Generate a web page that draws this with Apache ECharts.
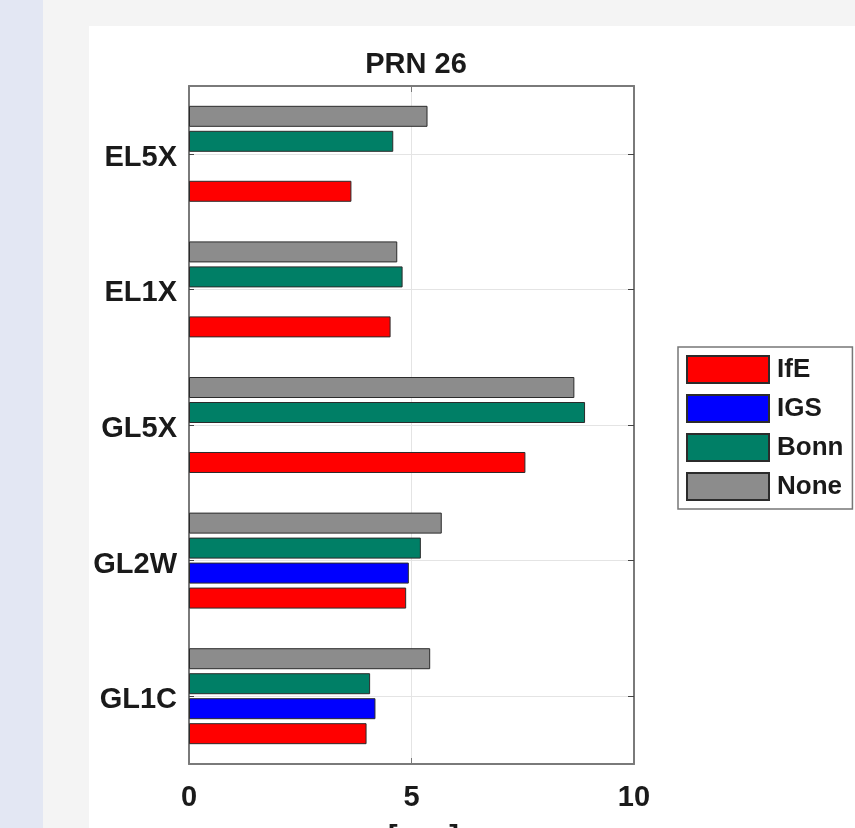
<!DOCTYPE html>
<html>
<head>
<meta charset="utf-8">
<script src="https://cdn.jsdelivr.net/npm/echarts@6/dist/echarts.min.js"></script>
<style>
  html, body { margin: 0; padding: 0; background: #f4f4f4; }
  #chart { width: 855px; height: 828px; }
</style>
</head>
<body>
<div id="chart"></div>
<script>
// Signals (bottom to top) and RMS values per correction source
const categories = ['GL1C', 'GL2W', 'GL5X', 'EL1X', 'EL5X'];
const ife  = [3.99, 4.88, 7.56, 4.53, 3.65];
const igs  = [4.19, 4.94, null, null, null];
const bonn = [4.07, 5.21, 8.90, 4.80, 4.59];
const none = [5.42, 5.68, 8.66, 4.68, 5.36];
const seriesNames = ['IfE', 'IGS', 'Bonn', 'None'];
const xTicks = [0, 5, 10];

const FONT = '"Liberation Sans", Arial, Helvetica, sans-serif';
const TXT = '#1a1a1a';
const AXIS = '#7a7a7a';
const GRIDC = '#e4e4e4';

// Helper axis for horizontal grid lines and right-hand ticks at category centres
const halfSteps = [];
for (let i = 0; i <= categories.length * 2; i++) halfSteps.push(String(i));
const atCentre = (i) => i % 2 === 1;

const chart = echarts.init(document.getElementById('chart'), null, { renderer: 'canvas' });

const barStyle = (color) => ({ color: color, borderColor: '#2b2b2b', borderWidth: 1 });

// Bars within a group are stacked upward in series order: IfE lowest, None on top
const bars = [
  { name: 'IfE',  data: ife,  color: '#ff0000' },
  { name: 'IGS',  data: igs,  color: '#0000ff' },
  { name: 'Bonn', data: bonn, color: '#007f66' },
  { name: 'None', data: none, color: '#8c8c8c' }
];

chart.setOption({
  animation: false,
  backgroundColor: '#f4f4f4',
  graphic: [
    { type: 'rect', z: -10, shape: { x: 0, y: 0, width: 43, height: 828 }, style: { fill: '#e3e7f3' } },
    { type: 'rect', z: -10, shape: { x: 89, y: 26, width: 766, height: 802 }, style: { fill: '#ffffff' } }
  ],
  title: {
    text: 'PRN 26',
    left: 411,
    top: 45,
    textAlign: 'center',
    textStyle: { fontFamily: FONT, fontSize: 29, fontWeight: 'bold', color: TXT }
  },
  legend: {
    orient: 'vertical',
    left: 678,
    top: 347,
    data: seriesNames,
    icon: 'rect',
    itemWidth: 82,
    itemHeight: 27,
    itemGap: 10,
    padding: [8, 9, 8, 8],
    backgroundColor: '#ffffff',
    borderColor: '#777777',
    borderWidth: 1.5,
    borderRadius: 0,
    selectedMode: false,
    textStyle: { fontFamily: FONT, fontSize: 26, fontWeight: 'bold', color: TXT, padding: [0, 0, 0, 3] }
  },
  grid: { left: 189, right: 221, top: 86, bottom: 64, containLabel: false, outerBoundsMode: 'none' },
  xAxis: [
    {
      type: 'value', min: 0, max: 10, interval: 5, position: 'bottom',
      name: '[mm]', nameLocation: 'middle', nameGap: 59,
      nameTextStyle: { fontFamily: FONT, fontSize: 29, fontWeight: 'bold', color: TXT, padding: [0, 0, 0, 24] },
      axisLine: { show: true, onZero: false, lineStyle: { color: AXIS, width: 2 } },
      axisTick: { show: true, inside: true, length: 6, lineStyle: { color: AXIS } },
      axisLabel: { margin: 19, fontFamily: FONT, fontSize: 29, fontWeight: 'bold', color: TXT,
                   formatter: (v) => (xTicks.includes(v) ? String(v) : '') },
      splitLine: { show: true, lineStyle: { color: GRIDC, width: 1 } }
    },
    {
      type: 'value', min: 0, max: 10, interval: 5, position: 'top',
      axisLine: { show: true, onZero: false, lineStyle: { color: AXIS, width: 2 } },
      axisTick: { show: true, inside: true, length: 6, lineStyle: { color: AXIS } },
      axisLabel: { show: false },
      splitLine: { show: false }
    }
  ],
  yAxis: [
    {
      type: 'category', data: categories, position: 'left',
      axisLine: { show: true, onZero: false, lineStyle: { color: AXIS, width: 2 } },
      axisTick: { show: true, inside: true, length: 5, alignWithLabel: true, lineStyle: { color: '#444' } },
      axisLabel: {
        margin: 12, color: TXT,
        formatter: (v) => '{c|' + v + '}',
        rich: { c: { fontFamily: FONT, fontSize: 29, fontWeight: 'bold', color: TXT, padding: [8, 0, 0, 0] } }
      },
      splitLine: { show: false }
    },
    {
      type: 'category', data: halfSteps, position: 'right', boundaryGap: false,
      axisLine: { show: true, onZero: false, lineStyle: { color: AXIS, width: 2 } },
      axisTick: { show: true, inside: true, length: 6, interval: atCentre, lineStyle: { color: '#444' } },
      axisLabel: { show: false },
      splitLine: { show: true, interval: atCentre, lineStyle: { color: GRIDC, width: 1 } }
    }
  ],
  // Series are listed top-down so that the first listed lands at the top of each group
  series: bars.slice().reverse().map((b) => ({
    name: b.name, type: 'bar', data: b.data,
    itemStyle: barStyle(b.color), barWidth: 21, barGap: '19%'
  }))
});
</script>
</body>
</html>
